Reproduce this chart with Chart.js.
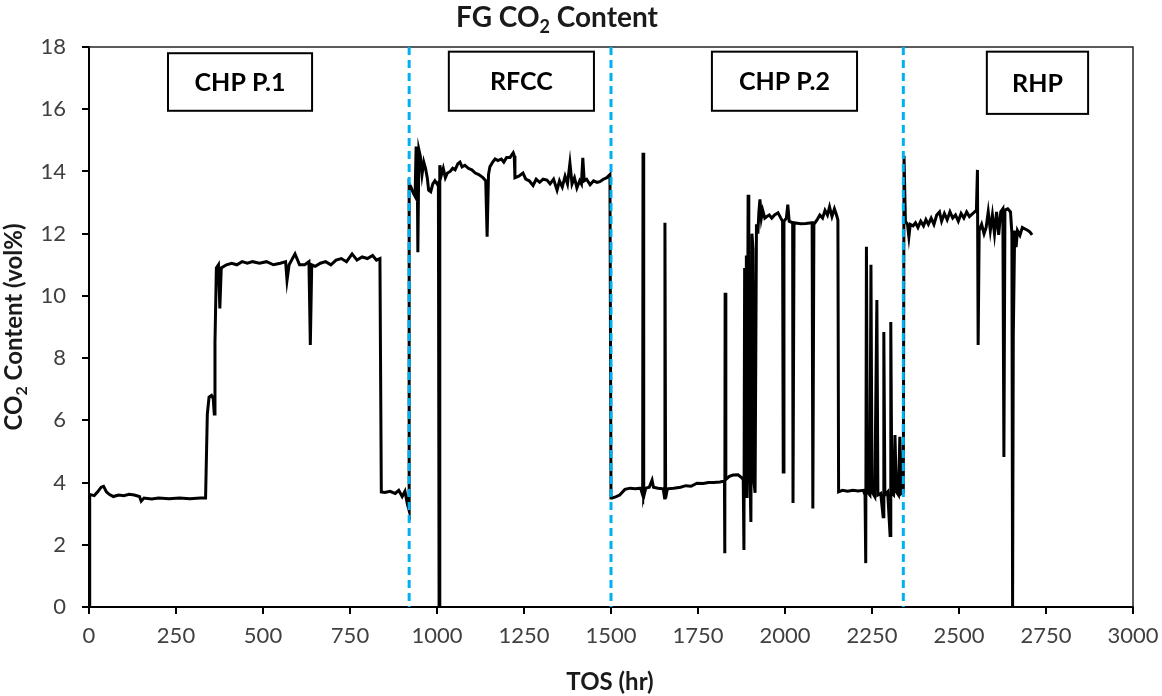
<!DOCTYPE html>
<html>
<head>
<meta charset="utf-8">
<script src="https://cdn.jsdelivr.net/npm/chart.js@4.4.0/dist/chart.umd.min.js"></script>
<style>
  html, body { margin: 0; padding: 0; background: #fff; }
  #wrap { width: 1162px; height: 696px; }
</style>
</head>
<body>
<div id="wrap"><canvas id="chart" width="1162" height="696"></canvas></div>
<script>
// time on stream (hr) and flue gas CO2 (vol%)
const tosHours = [
  0, 2, 15, 25, 35, 42, 50, 58, 70, 85, 100, 115, 130, 145, 150, 158, 180, 200, 230, 260, 290, 320, 335,
  340, 345, 352, 357, 360, 362, 366, 372, 376, 380, 395, 410, 425, 440, 455, 470, 490, 510, 530, 550, 565,
  569, 575, 592, 605, 620, 632, 636, 640, 650, 665, 680, 695, 710, 725, 740, 756, 770, 785, 800, 815, 826,
  836, 840, 850, 865, 880, 890, 900, 908, 915, 920,
  920, 925, 932, 937, 940, 943, 945, 948, 952, 957, 962, 967, 972, 976, 982, 988, 994, 1000, 1004, 1006,
  1008, 1013, 1018, 1024, 1030, 1038, 1045, 1052, 1060, 1066, 1072, 1080, 1090, 1100, 1110, 1120, 1132,
  1140, 1144, 1148, 1152, 1160, 1167, 1175, 1185, 1192, 1200, 1210, 1219, 1222, 1224, 1235, 1247, 1255,
  1265, 1276, 1285, 1295, 1305, 1316, 1325, 1335, 1345, 1352, 1360, 1368, 1375, 1382, 1388, 1395, 1402,
  1410, 1415, 1419, 1423, 1430, 1440, 1450, 1460, 1468, 1478, 1488, 1497, 1500,
  1503, 1515, 1525, 1540, 1555, 1570, 1585, 1591, 1592, 1594, 1600, 1610, 1618, 1622, 1635, 1650, 1654,
  1655, 1657, 1662, 1680, 1700, 1715, 1730, 1747, 1765, 1780, 1795, 1813, 1826, 1827, 1828, 1830, 1840,
  1851, 1865, 1876, 1880, 1882, 1884, 1887, 1889, 1891, 1894, 1896, 1899, 1902, 1905, 1908, 1911, 1914,
  1918, 1922, 1925, 1928, 1932, 1936, 1942, 1948, 1955, 1962, 1970, 1980, 1988, 1993, 1995, 1997, 2004,
  2008, 2012, 2022, 2023, 2026, 2045, 2060, 2078, 2080, 2083, 2092, 2100, 2108, 2115, 2122, 2128, 2135,
  2142, 2148, 2152, 2154, 2165, 2180, 2195, 2210, 2225, 2230, 2232, 2234, 2237, 2244, 2247, 2250, 2258,
  2264, 2267, 2275, 2282, 2284, 2287, 2295, 2302, 2304, 2307, 2312, 2316, 2320, 2326, 2330, 2334, 2339,
  2340, 2342, 2346, 2352, 2356, 2360, 2368, 2375, 2382, 2390, 2398, 2405, 2412, 2420, 2428, 2436, 2444,
  2450, 2458, 2466, 2474, 2482, 2490, 2498, 2506, 2514, 2522, 2530, 2540, 2550, 2553, 2555, 2558, 2565,
  2572, 2578, 2584, 2590, 2596, 2602, 2608, 2614, 2620, 2626, 2629, 2632, 2640, 2648, 2652, 2654, 2656,
  2660, 2664, 2668, 2675, 2682, 2690, 2698, 2704, 2710
];
const co2Content = [
  0, 3.62, 3.58, 3.7, 3.85, 3.88, 3.7, 3.62, 3.55, 3.6, 3.58, 3.62, 3.6, 3.55, 3.4, 3.5, 3.47, 3.5, 3.48, 3.5, 3.48, 3.5, 3.5,
  6.2, 6.75, 6.8, 6.7, 6.2, 8.5, 10.9, 11.0, 9.6, 10.9, 11.0, 11.05, 11.0, 11.1, 11.05, 11.1, 11.05, 11.1, 11.0, 11.05, 11.1,
  10.5, 11.0, 11.35, 11.0, 11.0, 11.1, 8.42, 11.0, 10.95, 11.05, 11.1, 11.0, 11.15, 11.2, 11.1, 11.35, 11.15, 11.25, 11.2, 11.3, 11.15,
  11.2, 3.7, 3.68, 3.72, 3.65, 3.75, 3.55, 3.72, 3.3, 3.1,
  13.6, 13.5, 13.3, 13.2, 14.8, 14.6, 11.4, 14.7, 14.5, 13.9, 14.3, 14.1, 13.8, 13.4, 13.35, 13.6, 13.7, 13.6, 13.65, 0,
  14.2, 13.9, 14.1, 13.8, 13.95, 14.0, 14.1, 14.05, 14.25, 14.3, 14.15, 14.2, 14.1, 14.05, 13.95, 13.9, 13.8,
  13.7, 11.9, 13.9, 14.15, 14.3, 14.4, 14.35, 14.4, 14.3, 14.45, 14.45, 14.6, 14.5, 13.8, 13.85, 13.95, 13.75,
  13.7, 13.55, 13.75, 13.65, 13.75, 13.72, 13.6, 13.75, 13.4, 13.7, 13.5, 13.85, 13.6, 14.27, 13.6, 13.8, 13.47,
  13.7, 13.6, 14.44, 13.7, 13.75, 13.57, 13.7, 13.65, 13.67, 13.75, 13.8, 13.9, 3.5,
  3.5, 3.55, 3.6, 3.78, 3.82, 3.8, 3.82, 3.6, 14.6, 3.55, 3.82, 3.85, 4.08, 3.85, 3.82, 3.8, 3.5,
  12.35, 3.5, 3.8, 3.82, 3.85, 3.9, 3.88, 3.98, 3.97, 4.0, 4.0, 4.02, 4.05, 1.73, 10.1, 4.1, 4.2,
  4.24, 4.25, 4.15, 4.1, 1.83, 10.9, 4.0, 11.3, 3.5, 13.25, 11.0, 4.5, 2.73, 12.0, 11.5, 4.0, 3.67,
  12.3, 12.0, 12.7, 13.1, 12.5, 12.75, 12.5, 12.55, 12.6, 12.5, 12.6, 12.67, 12.5, 12.4, 4.34, 12.4, 12.5,
  12.93, 12.4, 12.35, 3.34, 12.35, 12.32, 12.33, 12.35, 3.17, 12.3, 12.44, 12.6, 12.5, 12.75, 12.6, 12.86, 12.55,
  12.8, 12.6, 12.44, 3.7, 3.75, 3.72, 3.75, 3.73, 3.75, 3.6, 1.41, 11.58, 3.7, 3.6, 11.0, 3.7, 3.55,
  9.87, 3.6, 3.65, 2.9, 8.84, 3.6, 3.7, 2.3, 9.16, 3.65, 3.6, 5.53, 3.7, 3.6, 5.47, 3.65, 3.7,
  3.7, 14.5, 12.4, 12.3, 11.9, 12.3, 12.25, 12.35, 12.2, 12.4, 12.25, 12.45, 12.3, 12.5, 12.3, 12.6, 12.7,
  12.4, 12.65, 12.45, 12.7, 12.5, 12.6, 12.4, 12.65, 12.5, 12.7, 12.55, 12.65, 12.75, 14.05, 8.42, 12.1, 12.3,
  12.0, 12.2, 12.7, 12.1, 12.6, 12.0, 12.7, 11.96, 12.7, 12.8, 4.82, 12.76, 12.8, 12.7, 12.0, 0, 8.7,
  12.1, 11.57, 12.1, 11.95, 12.2, 12.15, 12.1, 12.05, 11.96
];

// unit changeover times (hr) and the unit names
const changeoverHours = [920, 1500, 2340];
const unitNames = ['CHP P.1', 'RFCC', 'CHP P.2', 'RHP'];

const FONT = 'Lato, "Open Sans", sans-serif';

// label boxes, placed in axis units
const unitBoxes = [
  { xMin: 227, xMax: 641, yMin: 15.95, yMax: 17.8 },
  { xMin: 1034, xMax: 1451, yMin: 15.95, yMax: 17.85 },
  { xMin: 1790, xMax: 2207, yMin: 15.95, yMax: 17.85 },
  { xMin: 2580, xMax: 2871, yMin: 15.85, yMax: 17.85 }
];

// draws text with a subscript part, e.g. CO2
function drawSubText(ctx, parts, x, y, size) {
  const widths = parts.map(p => {
    ctx.font = `bold ${p.sub ? Math.round(size * 0.65) : size}px ${FONT}`;
    return ctx.measureText(p.text).width;
  });
  const total = widths.reduce((a, b) => a + b, 0);
  let cx = x - total / 2;
  ctx.textAlign = 'left';
  ctx.textBaseline = 'alphabetic';
  parts.forEach((p, i) => {
    ctx.font = `bold ${p.sub ? Math.round(size * 0.65) : size}px ${FONT}`;
    ctx.fillText(p.text, cx, p.sub ? y + size * 0.22 : y);
    cx += widths[i];
  });
}

const decorPlugin = {
  id: 'decor',
  afterDatasetsDraw(chart) {
    const { ctx, chartArea, scales } = chart;
    const xs = scales.x, ys = scales.y;
    ctx.save();
    // plot frame (top / right)
    ctx.strokeStyle = '#262626';
    ctx.lineWidth = 1.5;
    ctx.beginPath();
    ctx.moveTo(chartArea.left, chartArea.top);
    ctx.lineTo(chartArea.right, chartArea.top);
    ctx.lineTo(chartArea.right, chartArea.bottom);
    ctx.stroke();

    // changeover lines
    ctx.strokeStyle = '#00B0F0';
    ctx.lineWidth = 3;
    ctx.setLineDash([8, 5]);
    changeoverHours.forEach(h => {
      const px = xs.getPixelForValue(h);
      ctx.beginPath();
      ctx.moveTo(px, chartArea.top);
      ctx.lineTo(px, chartArea.bottom);
      ctx.stroke();
    });
    ctx.setLineDash([]);

    // unit boxes
    unitBoxes.forEach((b, i) => {
      const l = xs.getPixelForValue(b.xMin), r = xs.getPixelForValue(b.xMax);
      const t = ys.getPixelForValue(b.yMax), btm = ys.getPixelForValue(b.yMin);
      ctx.fillStyle = '#fff';
      ctx.fillRect(l, t, r - l, btm - t);
      ctx.strokeStyle = '#000';
      ctx.lineWidth = 2;
      ctx.strokeRect(l, t, r - l, btm - t);
      ctx.fillStyle = '#000';
      ctx.font = `bold 25px ${FONT}`;
      ctx.textAlign = 'center';
      ctx.textBaseline = 'middle';
      ctx.fillText(unitNames[i], (l + r) / 2, (t + btm) / 2 + 1);
    });

    // title
    ctx.fillStyle = '#1a1a1a';
    drawSubText(ctx, [{ text: 'FG CO' }, { text: '2', sub: true }, { text: ' Content' }], 557, 27, 28);

    // axis titles
    ctx.font = `bold 24px ${FONT}`;
    ctx.textAlign = 'center';
    ctx.textBaseline = 'alphabetic';
    ctx.fillText('TOS (hr)', 610, 690);

    ctx.translate(22, (chartArea.top + chartArea.bottom) / 2);
    ctx.rotate(-Math.PI / 2);
    drawSubText(ctx, [{ text: 'CO' }, { text: '2', sub: true }, { text: ' Content (vol%)' }], 0, 0, 24);
    ctx.restore();
  }
};

const points = tosHours.map((t, i) => ({ x: t, y: co2Content[i] }));

const ctx = document.getElementById('chart').getContext('2d');
new Chart(ctx, {
  type: 'line',
  data: {
    datasets: [{
      data: points,
      borderColor: '#000',
      borderWidth: 3,
      pointRadius: 0,
      tension: 0,
      fill: false
    }]
  },
  options: {
    responsive: false,
    animation: false,
    layout: { padding: { top: 47, right: 29, left: 0, bottom: 0 } },
    plugins: {
      legend: { display: false },
      tooltip: { enabled: false },
      title: { display: false }
    },
    scales: {
      x: {
        type: 'linear',
        min: 0,
        max: 3000,
        ticks: { stepSize: 250, color: '#404040', font: { family: FONT, size: 22 }, padding: 9, maxRotation: 0, callback: v => String(v) },
        grid: { drawOnChartArea: false, drawTicks: true, tickLength: 7, color: '#000', lineWidth: 2 },
        border: { display: true, color: '#000', width: 2 },
        afterFit: s => { s.height = 89; s.paddingLeft = 0; s.paddingRight = 0; }
      },
      y: {
        min: 0,
        max: 18,
        ticks: { stepSize: 2, color: '#404040', font: { family: FONT, size: 22 }, padding: 16, callback: v => String(v) },
        grid: { drawOnChartArea: false, drawTicks: true, tickLength: 7, color: '#000', lineWidth: 2 },
        border: { display: true, color: '#000', width: 2 },
        afterFit: s => { s.width = 89; s.paddingTop = 0; s.paddingBottom = 0; }
      }
    }
  },
  plugins: [decorPlugin]
});
</script>
</body>
</html>
